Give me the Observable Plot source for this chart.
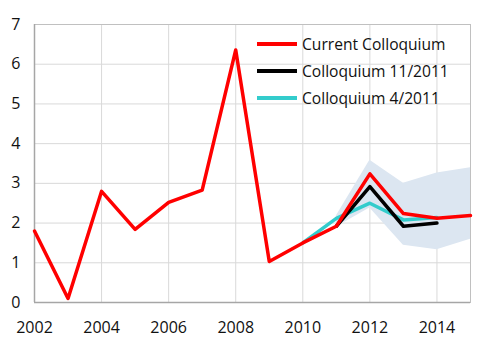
<!DOCTYPE html>
<html>
<head>
<meta charset="utf-8">
<script src="https://cdn.jsdelivr.net/npm/d3@7"></script>
<script src="https://cdn.jsdelivr.net/npm/@observablehq/plot@0.6"></script>
<style>
  html, body { margin: 0; padding: 0; background: #fff; }
  #wrap { position: relative; width: 500px; height: 353px; font-family: "Open Sans", sans-serif; }
  #legend { position: absolute; left: 257px; top: 30px; font-size: 15.6px; color: #111; }
  .row { display: flex; align-items: center; height: 27.4px; }
  .sw { width: 40px; height: 4px; margin-right: 5px; }
</style>
</head>
<body>
<div id="wrap"></div>
<script>
const years = [2002,2003,2004,2005,2006,2007,2008,2009,2010,2011,2012,2013,2014,2015];
const current = [1.8,0.1,2.8,1.84,2.52,2.83,6.36,1.03,1.5,1.92,3.24,2.24,2.12,2.19];
const nov2011Years = [2011,2012,2013,2014];
const nov2011 = [1.92,2.92,1.92,2.0];
const apr2011Years = [2010,2011,2012,2013,2014];
const apr2011 = [1.5,2.12,2.5,2.08,2.14];
const bandYears = [2011,2012,2013,2014,2015];
const bandLow = [1.9,2.38,1.44,1.33,1.59];
const bandHigh = [2.18,3.58,3.0,3.26,3.39];
const xTicks = [2002,2004,2006,2008,2010,2012,2014];
const yTicks = [0,1,2,3,4,5,6,7];
const vGrid = [2004,2006,2008,2010,2012,2014];
const seriesNames = ["Current Colloquium","Colloquium 11/2011","Colloquium 4/2011"];
const seriesColors = ["#ff0000","#000000","#33cccc"];

const cur = years.map((x,i)=>({x, y: current[i]}));
const nov = nov2011Years.map((x,i)=>({x, y: nov2011[i]}));
const apr = apr2011Years.map((x,i)=>({x, y: apr2011[i]}));
const band = bandYears.map((x,i)=>({x, lo: bandLow[i], hi: bandHigh[i]}));

const chart = Plot.plot({
  width: 500, height: 353,
  marginLeft: 34, marginRight: 30, marginTop: 24, marginBottom: 51,
  style: {fontFamily: "Open Sans, sans-serif", fontSize: "16px", color: "#111", background: "#fff"},
  x: {domain: [2002, 2015], label: null},
  y: {domain: [0, 7], label: null},
  marks: [
    Plot.ruleY(yTicks, {stroke: "#d9d9d9", strokeWidth: 1}),
    Plot.ruleX(vGrid, {stroke: "#d9d9d9", strokeWidth: 1}),
    Plot.areaY(band, {x: "x", y1: "lo", y2: "hi", fill: "#dce6f1", fillOpacity: 1}),
    Plot.frame({stroke: "#c0c0c0"}),
    Plot.ruleX([2002], {stroke: "#a6a6a6", strokeWidth: 1.5}),
    Plot.ruleY([0], {stroke: "#a6a6a6", strokeWidth: 1.5}),
    Plot.line(apr, {x: "x", y: "y", stroke: seriesColors[2], strokeWidth: 3.5}),
    Plot.line(nov, {x: "x", y: "y", stroke: seriesColors[1], strokeWidth: 3.5}),
    Plot.line(cur, {x: "x", y: "y", stroke: seriesColors[0], strokeWidth: 3.5}),
    Plot.axisX({ticks: xTicks, tickFormat: d => String(d), tickSize: 0, tickPadding: 19}),
    Plot.axisY({ticks: yTicks, tickFormat: d => String(d), tickSize: 0, tickPadding: 14})
  ]
});
const wrap = document.getElementById("wrap");
wrap.appendChild(chart);
const lg = document.createElement("div");
lg.id = "legend";
seriesNames.forEach((n,i)=>{
  const r = document.createElement("div"); r.className = "row";
  const s = document.createElement("div"); s.className = "sw"; s.style.background = seriesColors[i];
  const t = document.createElement("span"); t.textContent = n;
  r.appendChild(s); r.appendChild(t); lg.appendChild(r);
});
wrap.appendChild(lg);
</script>
</body>
</html>
